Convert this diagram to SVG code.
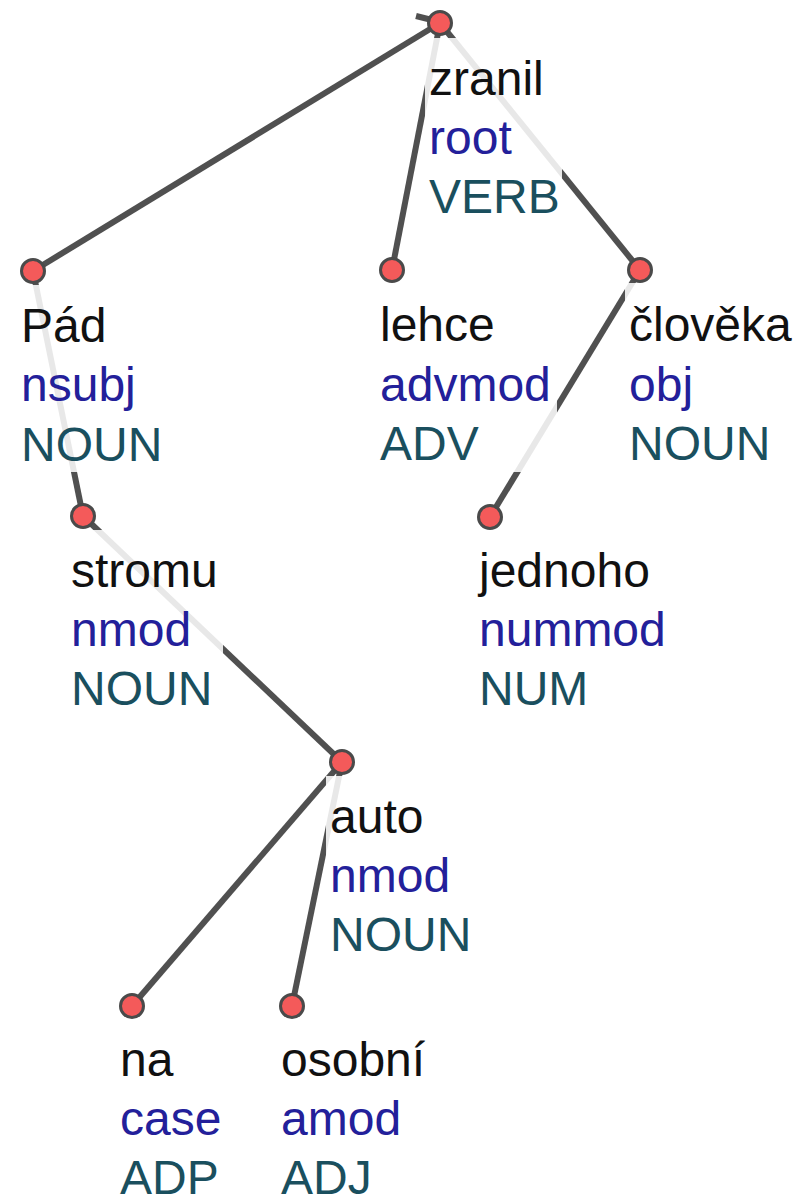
<svg xmlns="http://www.w3.org/2000/svg" width="804" height="1199" viewBox="0 0 804 1199">
<style>
.e{stroke:#505050;stroke-width:6;fill:none}
.bg{fill:#fff;fill-opacity:0.87}
.n{fill:#f45a5a;stroke:#4a4a4a;stroke-width:3}
text{font-family:"Liberation Sans",Arial,sans-serif;font-size:48px}
.w{fill:#111}
.d{fill:#23209a}
.p{fill:#1a4f5e}
</style>
<rect width="804" height="1199" fill="#fff"/>
<g id="edges">
<line class="e" x1="440" y1="23" x2="33" y2="271"/>
<line class="e" x1="440" y1="23" x2="392" y2="270"/>
<line class="e" x1="440" y1="23" x2="640" y2="270"/>
<line class="e" x1="33" y1="271" x2="83" y2="516"/>
<line class="e" x1="83" y1="516" x2="342" y2="762"/>
<line class="e" x1="640" y1="270" x2="490" y2="517"/>
<line class="e" x1="342" y1="762" x2="132" y2="1006"/>
<line class="e" x1="342" y1="762" x2="292" y2="1006"/>
<line class="e" stroke-width="5" x1="416" y1="16" x2="432" y2="20"/>
</g>
<g id="node-zranil">
<rect class="bg" x="425" y="38" width="137" height="184"/>
<circle class="n" cx="440" cy="23" r="11.5"/>
<text class="w" x="429" y="95">zranil</text>
<text class="d" x="429" y="154">root</text>
<text class="p" x="429" y="213">VERB</text>
</g>
<g id="node-pad">
<rect class="bg" x="17" y="285" width="150" height="187"/>
<circle class="n" cx="33" cy="271" r="11.5"/>
<text class="w" x="21" y="342">Pád</text>
<text class="d" x="21" y="401">nsubj</text>
<text class="p" x="21" y="461">NOUN</text>
</g>
<g id="node-lehce">
<rect class="bg" x="376" y="284" width="181" height="188"/>
<circle class="n" cx="392" cy="270" r="11.5"/>
<text class="w" x="380" y="341">lehce</text>
<text class="d" x="380" y="401">advmod</text>
<text class="p" x="380" y="460">ADV</text>
</g>
<g id="node-cloveka">
<rect class="bg" x="625" y="283" width="177" height="188"/>
<circle class="n" cx="640" cy="270" r="11.5"/>
<text class="w" x="629" y="341">člověka</text>
<text class="d" x="629" y="401">obj</text>
<text class="p" x="629" y="460">NOUN</text>
</g>
<g id="node-stromu">
<rect class="bg" x="67" y="530" width="156" height="188"/>
<circle class="n" cx="83" cy="516" r="11.5"/>
<text class="w" x="71" y="587">stromu</text>
<text class="d" x="71" y="646">nmod</text>
<text class="p" x="71" y="705">NOUN</text>
</g>
<g id="node-jednoho">
<rect class="bg" x="475" y="531" width="198" height="188"/>
<circle class="n" cx="490" cy="517" r="11.5"/>
<text class="w" x="479" y="587">jednoho</text>
<text class="d" x="479" y="646">nummod</text>
<text class="p" x="479" y="705">NUM</text>
</g>
<g id="node-auto">
<rect class="bg" x="326" y="776" width="152" height="188"/>
<circle class="n" cx="342" cy="762" r="11.5"/>
<text class="w" x="330" y="833">auto</text>
<text class="d" x="330" y="892">nmod</text>
<text class="p" x="330" y="951">NOUN</text>
</g>
<g id="node-na">
<rect class="bg" x="116" y="1020" width="112" height="179"/>
<circle class="n" cx="132" cy="1006" r="11.5"/>
<text class="w" x="120" y="1076">na</text>
<text class="d" x="120" y="1135">case</text>
<text class="p" x="120" y="1194">ADP</text>
</g>
<g id="node-osobni">
<rect class="bg" x="277" y="1020" width="152" height="179"/>
<circle class="n" cx="292" cy="1006" r="11.5"/>
<text class="w" x="281" y="1076">osobní</text>
<text class="d" x="281" y="1135">amod</text>
<text class="p" x="281" y="1194">ADJ</text>
</g>
</svg>
